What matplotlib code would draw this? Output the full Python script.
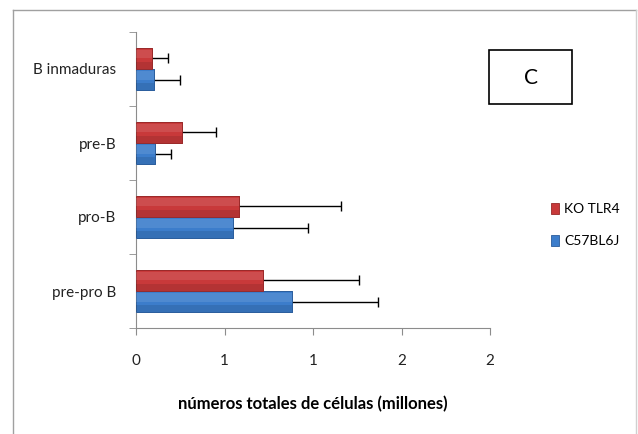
import matplotlib
matplotlib.use("Agg")
import matplotlib.pyplot as plt
import numpy as np

plt.rcParams['font.family'] = ['Lato', 'DejaVu Sans']

# data (millions of cells)
categorias = ["pre-pro B", "pro-B", "pre-B", "B inmaduras"]
ko_tlr4 = [0.72, 0.58, 0.26, 0.09]
ko_err = [0.54, 0.58, 0.19, 0.09]
c57bl6j = [0.88, 0.55, 0.11, 0.10]
c57_err = [0.49, 0.42, 0.09, 0.15]
xticks = [0, 0.5, 1.0, 1.5, 2.0]
xlabels = ["0", "1", "1", "2", "2"]

rojo = "#C8393A"
azul = "#3C7DCB"
gris = "#8C8C8C"

fig = plt.figure(figsize=(6.38, 4.34), dpi=100)
ax = fig.add_axes([136/638, 1-328/434, (490-136)/638, (328-32)/434])

y = np.arange(len(categorias))
h = 0.285
ekw = dict(ecolor="black", elinewidth=1.0, capsize=3.5, capthick=1.0)
ax.barh(y - h/2, c57bl6j, height=h, color=azul, edgecolor="#2A5C9A", linewidth=0.6,
        xerr=c57_err, error_kw=ekw, label="C57BL6J")
ax.barh(y + h/2, ko_tlr4, height=h, color=rojo, edgecolor="#962828", linewidth=0.6,
        xerr=ko_err, error_kw=ekw, label="KO TLR4")

# redraw bars on top so only the right half of each error bar shows
ax.barh(y - h/2, c57bl6j, height=h, color=azul, edgecolor="#2A5C9A", linewidth=0.6, zorder=3)
ax.barh(y + h/2, ko_tlr4, height=h, color=rojo, edgecolor="#962828", linewidth=0.6, zorder=3)
# soft shading for the 3D look
ax.barh(y - h/2 + h*0.2, c57bl6j, height=h*0.4, color="white", alpha=0.10, linewidth=0, zorder=4)
ax.barh(y + h/2 + h*0.2, ko_tlr4, height=h*0.4, color="white", alpha=0.10, linewidth=0, zorder=4)
ax.barh(y - h/2 - h*0.33, c57bl6j, height=h*0.3, color="black", alpha=0.10, linewidth=0, zorder=4)
ax.barh(y + h/2 - h*0.33, ko_tlr4, height=h*0.3, color="black", alpha=0.10, linewidth=0, zorder=4)

ax.set_xlim(0, 2.0)
ax.set_ylim(-0.5, len(categorias) - 0.5)
ax.set_xticks(xticks)
ax.set_xticklabels(xlabels)
ax.set_yticks(y)
ax.set_yticklabels(categorias)
ax.set_yticks(np.arange(len(categorias) + 1) - 0.5, minor=True)
ax.tick_params(axis="y", which="major", length=0, pad=14, labelsize=11, colors="#222222")
ax.tick_params(axis="y", which="minor", length=5, color=gris, direction="out")
ax.tick_params(axis="x", length=5, color=gris, pad=14, labelsize=11, colors="#222222")
for s in ["top", "right"]:
    ax.spines[s].set_visible(False)
for s in ["left", "bottom"]:
    ax.spines[s].set_color(gris)
ax.set_xlabel("números totales de células (millones)", fontsize=12, fontweight="bold", labelpad=20)

# legend
handles, labels = ax.get_legend_handles_labels()
leg = fig.legend(handles[::-1], labels[::-1], loc="center left",
                 bbox_to_anchor=(538/638, 1-225/434), frameon=False, fontsize=10,
                 handlelength=0.6, handleheight=0.9, handletextpad=0.4, labelspacing=1.4)

# panel label box
rect = plt.Rectangle((489/638, 1-104/434), 83/638, 54/434, transform=fig.transFigure,
                     fill=False, edgecolor="black", linewidth=1.2)
fig.add_artist(rect)
fig.text(531/638, 1-78/434, "C", fontsize=15, ha="center", va="center", color="black")

# outer chart frame (left, top, right)
fig.add_artist(plt.Line2D([13/638, 13/638], [0, 1-10/434], transform=fig.transFigure, color="#A0A0A0", lw=1))
fig.add_artist(plt.Line2D([13/638, 636/638], [1-10/434, 1-10/434], transform=fig.transFigure, color="#A0A0A0", lw=1))
fig.add_artist(plt.Line2D([636/638, 636/638], [0, 1-10/434], transform=fig.transFigure, color="#D0D0D0", lw=1))

fig.savefig("out.png", dpi=100)
